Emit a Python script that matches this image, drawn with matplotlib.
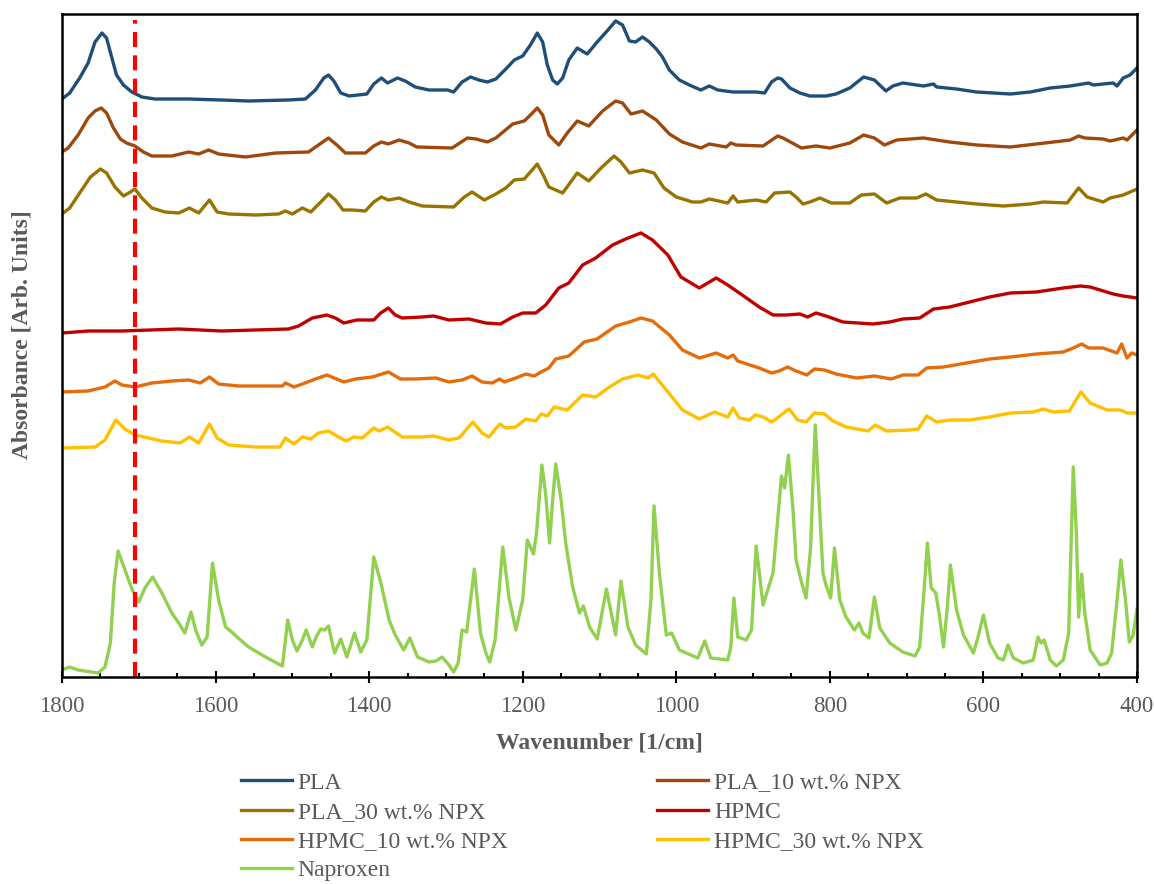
import matplotlib.pyplot as plt
from matplotlib.ticker import MultipleLocator

plt.rcParams['font.family'] = ['Liberation Serif', 'DejaVu Serif']

# FTIR spectra, stacked with offsets (absorbance in arbitrary units)
pla_wn = [1800, 1790, 1777, 1766, 1757, 1748, 1742, 1735, 1729, 1720,
          1709, 1696, 1679, 1635, 1592, 1557, 1505, 1483, 1470, 1459,
          1453, 1446, 1437, 1426, 1403, 1394, 1384, 1376, 1363, 1353,
          1340, 1322, 1298, 1290, 1279, 1268, 1257, 1246, 1235, 1222,
          1211, 1200, 1190, 1181, 1174, 1168, 1161, 1155, 1148, 1140,
          1129, 1116, 1103, 1089, 1079, 1070, 1061, 1053, 1044, 1035,
          1026, 1018, 1009, 996, 983, 968, 957, 946, 926, 896,
          885, 876, 868, 863, 852, 839, 826, 805, 792, 774,
          756, 742, 727, 718, 705, 678, 665, 661, 635, 609,
          565, 539, 513, 487, 463, 457, 431, 426, 418, 409,
          400]
pla_ab = [578, 584, 599, 614, 635, 644, 639, 619, 602, 592,
          585, 580, 578, 578, 577, 576, 577, 578, 587, 599,
          602, 596, 584, 581, 583, 593, 599, 594, 599, 596,
          590, 587, 587, 585, 595, 600, 597, 595, 598, 608,
          617, 621, 632, 644, 635, 612, 597, 593, 599, 617,
          629, 623, 635, 647, 656, 652, 636, 635, 640, 635,
          628, 620, 607, 597, 592, 587, 591, 587, 585, 585,
          584, 595, 599, 598, 589, 584, 581, 581, 583, 589,
          600, 597, 586, 591, 594, 591, 593, 590, 588, 585,
          583, 585, 589, 591, 594, 592, 594, 591, 599, 602,
          609]

pla10_wn = [1800, 1792, 1779, 1766, 1757, 1749, 1742, 1733, 1724, 1716,
            1705, 1694, 1683, 1657, 1635, 1622, 1609, 1596, 1561, 1522,
            1479, 1466, 1453, 1442, 1431, 1405, 1394, 1384, 1375, 1361,
            1348, 1338, 1292, 1272, 1261, 1246, 1235, 1213, 1198, 1190,
            1181, 1174, 1166, 1153, 1142, 1129, 1114, 1096, 1079, 1070,
            1059, 1044, 1026, 1009, 992, 968, 957, 935, 929, 922,
            887, 868, 861, 837, 818, 800, 774, 756, 742, 729,
            713, 678, 644, 609, 565, 531, 487, 476, 468, 444,
            435, 418, 413, 400]
pla10_ab = [525, 529, 542, 559, 566, 569, 564, 549, 538, 534,
            531, 525, 521, 521, 525, 523, 527, 523, 520, 524,
            525, 532, 539, 532, 524, 524, 531, 535, 533, 537,
            534, 530, 529, 539, 538, 535, 539, 553, 556, 562,
            569, 562, 542, 532, 544, 556, 551, 566, 576, 574,
            563, 566, 557, 543, 535, 529, 533, 530, 534, 532,
            531, 541, 539, 529, 531, 529, 534, 542, 539, 532,
            537, 539, 535, 532, 530, 533, 537, 541, 539, 538,
            536, 539, 537, 547]

pla30_wn = [1800, 1790, 1777, 1763, 1750, 1742, 1731, 1720, 1713, 1705,
            1696, 1683, 1666, 1648, 1634, 1622, 1608, 1598, 1583, 1548,
            1518, 1509, 1500, 1487, 1476, 1463, 1453, 1444, 1434, 1422,
            1405, 1394, 1384, 1375, 1361, 1348, 1331, 1290, 1276, 1266,
            1250, 1235, 1222, 1211, 1198, 1181, 1172, 1166, 1148, 1129,
            1114, 1098, 1081, 1072, 1061, 1044, 1029, 1016, 1000, 979,
            968, 957, 933, 926, 920, 896, 883, 872, 852, 844,
            835, 826, 813, 798, 774, 759, 742, 726, 709, 687,
            675, 661, 635, 609, 574, 539, 522, 491, 476, 465,
            444, 435, 418, 409, 400]
pla30_ab = [463, 469, 484, 500, 508, 504, 490, 481, 484, 488,
            479, 469, 465, 464, 469, 464, 477, 465, 463, 462,
            463, 466, 463, 469, 465, 475, 483, 477, 467, 467,
            466, 475, 480, 477, 479, 475, 471, 470, 480, 485,
            477, 483, 489, 497, 498, 513, 500, 490, 484, 504,
            496, 509, 521, 515, 504, 507, 504, 489, 480, 475,
            475, 478, 474, 481, 475, 477, 475, 484, 485, 480,
            473, 475, 479, 474, 474, 482, 483, 474, 479, 479,
            483, 477, 475, 473, 471, 473, 475, 474, 489, 480,
            475, 479, 482, 485, 488]

hpmc_wn = [1800, 1766, 1722, 1648, 1592, 1505, 1492, 1474, 1455, 1444,
           1433, 1416, 1394, 1385, 1375, 1366, 1357, 1331, 1316, 1296,
           1270, 1248, 1229, 1213, 1200, 1183, 1170, 1153, 1140, 1122,
           1105, 1083, 1066, 1046, 1031, 1011, 994, 970, 948, 933,
           916, 892, 874, 857, 839, 829, 818, 805, 783, 744,
           722, 705, 683, 665, 644, 618, 592, 565, 531, 496,
           474, 461, 448, 431, 418, 400]
hpmc_ab = [344, 346, 346, 348, 346, 348, 351, 359, 362, 359,
           354, 357, 357, 364, 369, 362, 359, 360, 361, 357,
           358, 354, 353, 360, 364, 364, 372, 389, 394, 412,
           419, 432, 438, 444, 437, 422, 400, 389, 399, 392,
           383, 370, 362, 362, 363, 360, 364, 361, 355, 353,
           355, 358, 359, 368, 370, 375, 380, 384, 385, 389,
           391, 390, 387, 383, 381, 379]

hpmc10_wn = [1800, 1766, 1744, 1731, 1722, 1705, 1683, 1657, 1635, 1620,
             1608, 1596, 1570, 1513, 1509, 1498, 1487, 1470, 1455, 1433,
             1418, 1396, 1375, 1359, 1340, 1313, 1296, 1279, 1266, 1253,
             1240, 1230, 1224, 1209, 1196, 1185, 1176, 1166, 1157, 1140,
             1120, 1103, 1079, 1061, 1046, 1031, 1009, 992, 970, 948,
             933, 926, 920, 892, 876, 866, 855, 844, 830, 820,
             807, 792, 765, 742, 720, 705, 685, 674, 652, 622,
             592, 565, 531, 496, 483, 472, 463, 444, 426, 420,
             413, 407, 400]
hpmc10_ab = [285, 286, 290, 296, 292, 290, 294, 296, 297, 294,
             300, 293, 291, 291, 294, 290, 293, 298, 302, 295,
             298, 300, 305, 298, 298, 299, 295, 297, 301, 295,
             294, 298, 295, 299, 303, 301, 305, 309, 318, 321,
             335, 338, 351, 355, 359, 356, 342, 327, 319, 324,
             319, 322, 316, 309, 304, 306, 310, 306, 302, 308,
             307, 303, 299, 301, 298, 302, 302, 309, 310, 314,
             318, 320, 323, 325, 329, 333, 329, 329, 324, 333,
             319, 324, 322]

hpmc30_wn = [1800, 1757, 1744, 1730, 1718, 1705, 1687, 1670, 1646, 1634,
             1622, 1608, 1598, 1583, 1548, 1516, 1509, 1498, 1487, 1476,
             1466, 1453, 1442, 1430, 1420, 1409, 1394, 1387, 1376, 1357,
             1331, 1316, 1296, 1283, 1265, 1253, 1244, 1230, 1222, 1209,
             1196, 1183, 1176, 1168, 1159, 1142, 1122, 1105, 1087, 1070,
             1050, 1037, 1030, 1013, 992, 970, 950, 933, 926, 918,
             905, 897, 887, 876, 870, 857, 853, 842, 831, 820,
             807, 796, 779, 750, 741, 726, 696, 685, 674, 661,
             644, 618, 592, 565, 535, 522, 509, 488, 473, 461,
             439, 422, 413, 400]
hpmc30_ab = [229, 230, 237, 257, 248, 242, 239, 236, 234, 240,
             234, 253, 239, 232, 230, 230, 239, 233, 240, 238,
             244, 246, 241, 236, 240, 239, 249, 246, 250, 240,
             240, 241, 237, 239, 255, 244, 240, 253, 249, 250,
             258, 256, 263, 261, 270, 267, 282, 280, 290, 298,
             302, 299, 303, 287, 267, 258, 265, 260, 269, 259,
             257, 262, 260, 255, 258, 266, 268, 257, 255, 264,
             263, 256, 250, 246, 252, 246, 247, 248, 261, 255,
             257, 257, 260, 264, 265, 268, 265, 266, 285, 274,
             267, 267, 264, 264]

npx_wn = [1800, 1790, 1779, 1753, 1744, 1737, 1732, 1727, 1718, 1709,
          1700, 1692, 1682, 1670, 1657, 1648, 1640, 1632, 1626, 1618,
          1611, 1604, 1596, 1587, 1579, 1572, 1557, 1535, 1513, 1509,
          1506, 1500, 1494, 1487, 1482, 1474, 1469, 1463, 1458, 1453,
          1445, 1437, 1429, 1419, 1411, 1403, 1394, 1385, 1374, 1366,
          1355, 1347, 1337, 1322, 1313, 1305, 1296, 1290, 1284, 1279,
          1273, 1263, 1255, 1248, 1243, 1236, 1226, 1218, 1209, 1200,
          1194, 1186, 1182, 1175, 1170, 1165, 1161, 1157, 1150, 1144,
          1135, 1126, 1121, 1113, 1103, 1091, 1079, 1072, 1063, 1053,
          1039, 1033, 1029, 1022, 1013, 1006, 996, 972, 963, 955,
          933, 929, 925, 920, 909, 902, 896, 887, 874, 863,
          859, 854, 848, 844, 837, 831, 825, 822, 819, 814,
          809, 805, 799, 794, 787, 779, 768, 762, 757, 749,
          742, 735, 722, 705, 689, 683, 677, 673, 668, 662,
          657, 652, 647, 643, 635, 626, 613, 607, 600, 592,
          581, 574, 568, 561, 548, 535, 529, 525, 521, 513,
          505, 496, 489, 486, 483, 479, 476, 472, 468, 461,
          448, 439, 433, 426, 421, 415, 410, 405, 400]
npx_ab = [7, 10, 7, 4, 10, 34, 94, 126, 107, 88,
          75, 89, 100, 84, 64, 54, 44, 65, 47, 32,
          40, 114, 77, 50, 45, 40, 30, 20, 11, 37,
          57, 37, 26, 37, 47, 30, 40, 48, 47, 51,
          24, 38, 20, 44, 25, 37, 120, 95, 57, 42,
          27, 39, 20, 15, 16, 20, 12, 5, 14, 47,
          45, 108, 44, 24, 15, 37, 130, 80, 47, 77,
          137, 123, 144, 212, 182, 134, 177, 213, 177, 134,
          90, 64, 71, 50, 38, 88, 42, 96, 50, 32,
          23, 77, 171, 104, 42, 44, 27, 19, 36, 19,
          17, 30, 79, 40, 37, 47, 131, 72, 104, 201,
          189, 222, 167, 117, 95, 79, 130, 194, 252, 177,
          104, 92, 79, 129, 77, 60, 47, 54, 44, 39,
          80, 49, 34, 25, 21, 30, 90, 134, 89, 84,
          60, 30, 70, 112, 67, 42, 24, 40, 62, 34,
          19, 17, 32, 19, 14, 17, 40, 34, 37, 17,
          11, 17, 44, 127, 210, 144, 60, 103, 64, 27,
          12, 14, 24, 77, 117, 77, 35, 42, 68]

# carbonyl band marker
marker_wn = [1705, 1705]
marker_ab = [0, 657]

grey = '#595959'
fig = plt.figure(figsize=(11.54, 8.84), dpi=100)
ax = fig.add_axes([62 / 1154, 1 - 677 / 884, 1075 / 1154, 663 / 884])

lw = 2.4
h_pla, = ax.plot(pla_wn, pla_ab, color='#1F4E79', lw=lw, label='PLA')
h_pla10, = ax.plot(pla10_wn, pla10_ab, color='#9E480E', lw=lw, label='PLA_10 wt.% NPX')
h_pla30, = ax.plot(pla30_wn, pla30_ab, color='#997300', lw=lw, label='PLA_30 wt.% NPX')
h_hpmc, = ax.plot(hpmc_wn, hpmc_ab, color='#C00000', lw=lw, label='HPMC')
h_hpmc10, = ax.plot(hpmc10_wn, hpmc10_ab, color='#E46C0A', lw=lw, label='HPMC_10 wt.% NPX')
h_hpmc30, = ax.plot(hpmc30_wn, hpmc30_ab, color='#FFC000', lw=lw, label='HPMC_30 wt.% NPX')
h_npx, = ax.plot(npx_wn, npx_ab, color='#92D050', lw=lw, label='Naproxen')
ax.plot(marker_wn, marker_ab, color='#FF0000', lw=3, dashes=(3.6, 2.0))

ax.set_xlim(1800, 400)
ax.set_ylim(0, 663)
ax.set_yticks([])
ax.xaxis.set_major_locator(MultipleLocator(200))
ax.xaxis.set_minor_locator(MultipleLocator(50))
ax.tick_params(axis='x', which='major', direction='inout', length=9, width=1.5,
               labelsize=16.5, labelcolor=grey, pad=9)
ax.tick_params(axis='x', which='minor', direction='in', length=3, width=1.5)
for s in ax.spines.values():
    s.set_linewidth(1.8)

ax.set_xlabel('Wavenumber [1/cm]', fontsize=17, fontweight='bold', color=grey)
ax.xaxis.set_label_coords(0.5, -0.083)
ax.set_ylabel('Absorbance [Arb. Units]', fontsize=17, fontweight='bold', color=grey)
ax.yaxis.set_label_coords(-0.027, 0.516)

# fill legend column-wise so it reads row by row
handles = [h_pla, h_pla30, h_hpmc10, h_npx, h_pla10, h_hpmc, h_hpmc30]
fig.legend(handles, [h.get_label() for h in handles], ncol=2, loc='upper left',
           bbox_to_anchor=(241 / 1154, 1 - 772 / 884), frameon=False,
           fontsize=17, labelcolor=grey, handlelength=2.15, handletextpad=0.25,
           columnspacing=6.35, labelspacing=0.33, borderpad=0, borderaxespad=0)

fig.savefig('out.png', dpi=100)
